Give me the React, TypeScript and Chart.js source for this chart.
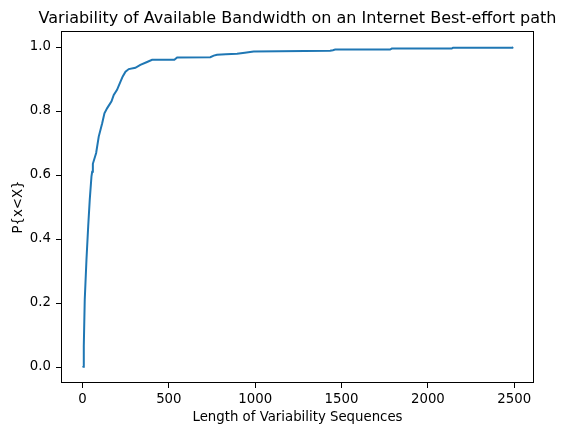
import React, { useEffect, useRef } from "react";
import { Chart, registerables } from "chart.js";

Chart.register(...registerables);

const seqLength: number[] = [0, 5, 7.5, 13, 23, 33, 42, 52, 56, 60, 79, 94, 114, 127, 143, 168, 181, 200, 220, 233, 249, 268, 306, 335, 374, 403, 532, 548, 740, 760, 779, 830, 895, 940, 991, 1434, 1450, 1463, 1781, 1791, 2138, 2146, 2490, 2493];
const cdfValue: number[] = [0, 0.001, 0.066, 0.21, 0.336, 0.44, 0.523, 0.596, 0.61, 0.635, 0.669, 0.72, 0.762, 0.793, 0.809, 0.83, 0.85, 0.866, 0.892, 0.908, 0.923, 0.931, 0.935, 0.944, 0.953, 0.96, 0.96, 0.967, 0.968, 0.973, 0.976, 0.977, 0.979, 0.982, 0.986, 0.988, 0.99, 0.992, 0.992, 0.995, 0.995, 0.998, 0.998, 1.0];
const xTicks: number[] = [0, 500, 1000, 1500, 2000, 2500];
const yTicks: number[] = [0, 0.2, 0.4, 0.6, 0.8, 1.0];

const FONT = "'DejaVu Sans', sans-serif";

const framePlugin = {
  id: "frame",
  afterLayout(chart: any) {
    const t = chart.titleBlock;
    const ca = chart.chartArea;
    if (t && ca) {
      const c = (ca.left + ca.right) / 2;
      const half = Math.min(c, chart.width - c);
      t.left = c - half;
      t.right = c + half;
      t.width = 2 * half;
    }
  },
  afterDraw(chart: any) {
    const { ctx, chartArea } = chart;
    ctx.save();
    ctx.strokeStyle = "#000";
    ctx.lineWidth = 1;
    ctx.strokeRect(
      Math.round(chartArea.left) + 0.5,
      Math.round(chartArea.top) + 0.5,
      Math.round(chartArea.right - chartArea.left) - 1,
      Math.round(chartArea.bottom - chartArea.top) - 1
    );
    ctx.restore();
  },
};

export default function App() {
  const ref = useRef<HTMLCanvasElement | null>(null);
  useEffect(() => {
    if (!ref.current) return;
    const chart = new Chart(ref.current, {
      type: "line",
      data: {
        datasets: [
          {
            data: seqLength.map((x, i) => ({ x, y: cdfValue[i] })),
            borderColor: "#1f77b4",
            borderWidth: 2,
            pointRadius: 0,
            tension: 0,
            fill: false,
          },
        ],
      },
      options: {
        animation: false,
        responsive: false,
        layout: { padding: { left: 0, right: 32, top: 0, bottom: 0 } },
        plugins: {
          legend: { display: false },
          tooltip: { enabled: false },
          title: {
            display: true,
            text: "Variability of Available Bandwidth on an Internet Best-effort path",
            color: "#000",
            font: { family: FONT, size: 16, weight: "normal" },
            padding: { top: 8.9, bottom: 2.9 },
          },
        },
        scales: {
          x: {
            type: "linear",
            min: -124.5,
            max: 2614.5,
            afterBuildTicks: (s: any) => {
              s.ticks = xTicks.map((v) => ({ value: v }));
            },
            afterFit: (s: any) => {
              s.height = 47;
            },
            ticks: {
              color: "#000",
              font: { family: FONT, size: 13.3 },
              padding: 4,
              maxRotation: 0,
              autoSkip: false,
              callback: (v: any) => String(v),
            },
            grid: { drawOnChartArea: false, drawTicks: true, tickLength: 5, color: "#000" },
            border: { display: false },
            title: {
              display: true,
              text: "Length of Variability Sequences",
              color: "#000",
              font: { family: FONT, size: 13.3 },
              padding: { top: 0, bottom: 4.5 },
            },
          },
          y: {
            type: "linear",
            min: -0.05,
            max: 1.05,
            afterBuildTicks: (s: any) => {
              s.ticks = yTicks.map((v) => ({ value: v }));
            },
            afterFit: (s: any) => {
              s.width = 61;
            },
            ticks: {
              color: "#000",
              font: { family: FONT, size: 13.3 },
              padding: 5,
              autoSkip: false,
              callback: (v: any) => Number(v).toFixed(1),
            },
            grid: { drawOnChartArea: false, drawTicks: true, tickLength: 5, color: "#000" },
            border: { display: false },
            title: {
              display: true,
              text: "P{x<X}",
              color: "#000",
              font: { family: FONT, size: 13.3 },
              padding: { top: 10.4, bottom: 0 },
            },
          },
        },
      },
      plugins: [framePlugin],
    });
    return () => chart.destroy();
  }, []);
  return (
    <div style={{ position: "fixed", left: 0, top: 0, width: 566, height: 430, background: "#fff" }}>
      <canvas ref={ref} width={566} height={430} />
    </div>
  );
}
